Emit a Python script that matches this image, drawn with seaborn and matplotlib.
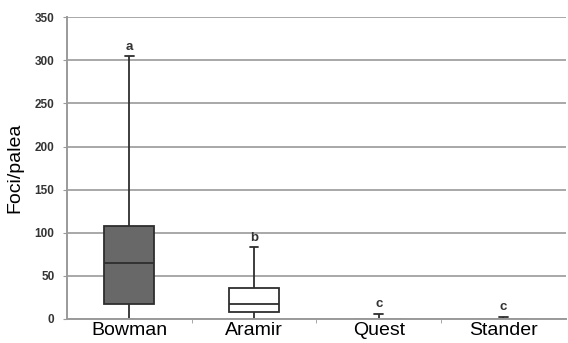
import numpy as np
import pandas as pd
import matplotlib
matplotlib.use("Agg")
import matplotlib.pyplot as plt
import seaborn as sns

# five-number summaries: min, q1, median, q3, max
cultivars = ["Bowman", "Aramir", "Quest", "Stander"]
bowman = [0, 17, 65, 108, 305]
aramir = [0, 8, 17, 36, 83]
quest = [0, 0, 0, 0.4, 6]
stander = [0, 0, 0, 0.3, 2.5]
letters = ["a", "b", "c", "c"]

df = pd.DataFrame({
    "cultivar": np.repeat(cultivars, 5),
    "foci": bowman + aramir + quest + stander,
})

sns.set_style("white")
plt.rcParams["font.family"] = ["Liberation Sans", "DejaVu Sans"]
fig = plt.figure(figsize=(5.68, 3.43), dpi=100)
ax = fig.add_axes([0.118, 0.070, 0.878, 0.880])

edge = "#2e2e2e"
sns.boxplot(data=df, x="cultivar", y="foci", order=cultivars, whis=np.inf,
            width=0.4, linewidth=1.3, color="white", linecolor=edge,
            capwidths=0.07, ax=ax)
ax.patches[0].set_facecolor("#686868")

groups = [bowman, aramir, quest, stander]
for i, (vals, lab) in enumerate(zip(groups, letters)):
    ax.text(i, max(vals) + 4, lab, ha="center", va="bottom", fontsize=9.5,
            fontweight="bold", color="#333333")

ax.set_ylim(0, 350)
ax.set_xlim(-0.5, 3.5)
ax.set_yticks(range(0, 351, 50))
ax.yaxis.grid(True, color="#9a9a9a", linewidth=1.2)
ax.set_axisbelow(True)
for s in ["top", "right"]:
    ax.spines[s].set_visible(False)
for s in ["left", "bottom"]:
    ax.spines[s].set_color("#9a9a9a")
    ax.spines[s].set_linewidth(1.4)
    ax.spines[s].set_zorder(5)

ax.set_xticks([0.5, 1.5, 2.5], minor=True)
ax.tick_params(axis="x", which="minor", length=3, color="#9a9a9a", bottom=True)
ax.tick_params(axis="x", which="major", length=0, labelsize=14, pad=2,
               labelcolor="black")
ax.tick_params(axis="y", length=3, color="#9a9a9a", labelsize=8.5, left=True,
               labelcolor="#333333", pad=6)
for t in ax.get_yticklabels():
    t.set_fontweight("bold")

ax.set_xlabel("")
ax.set_ylabel("Foci/palea", fontsize=14, labelpad=8, color="black")

fig.savefig("out.png", dpi=100)
